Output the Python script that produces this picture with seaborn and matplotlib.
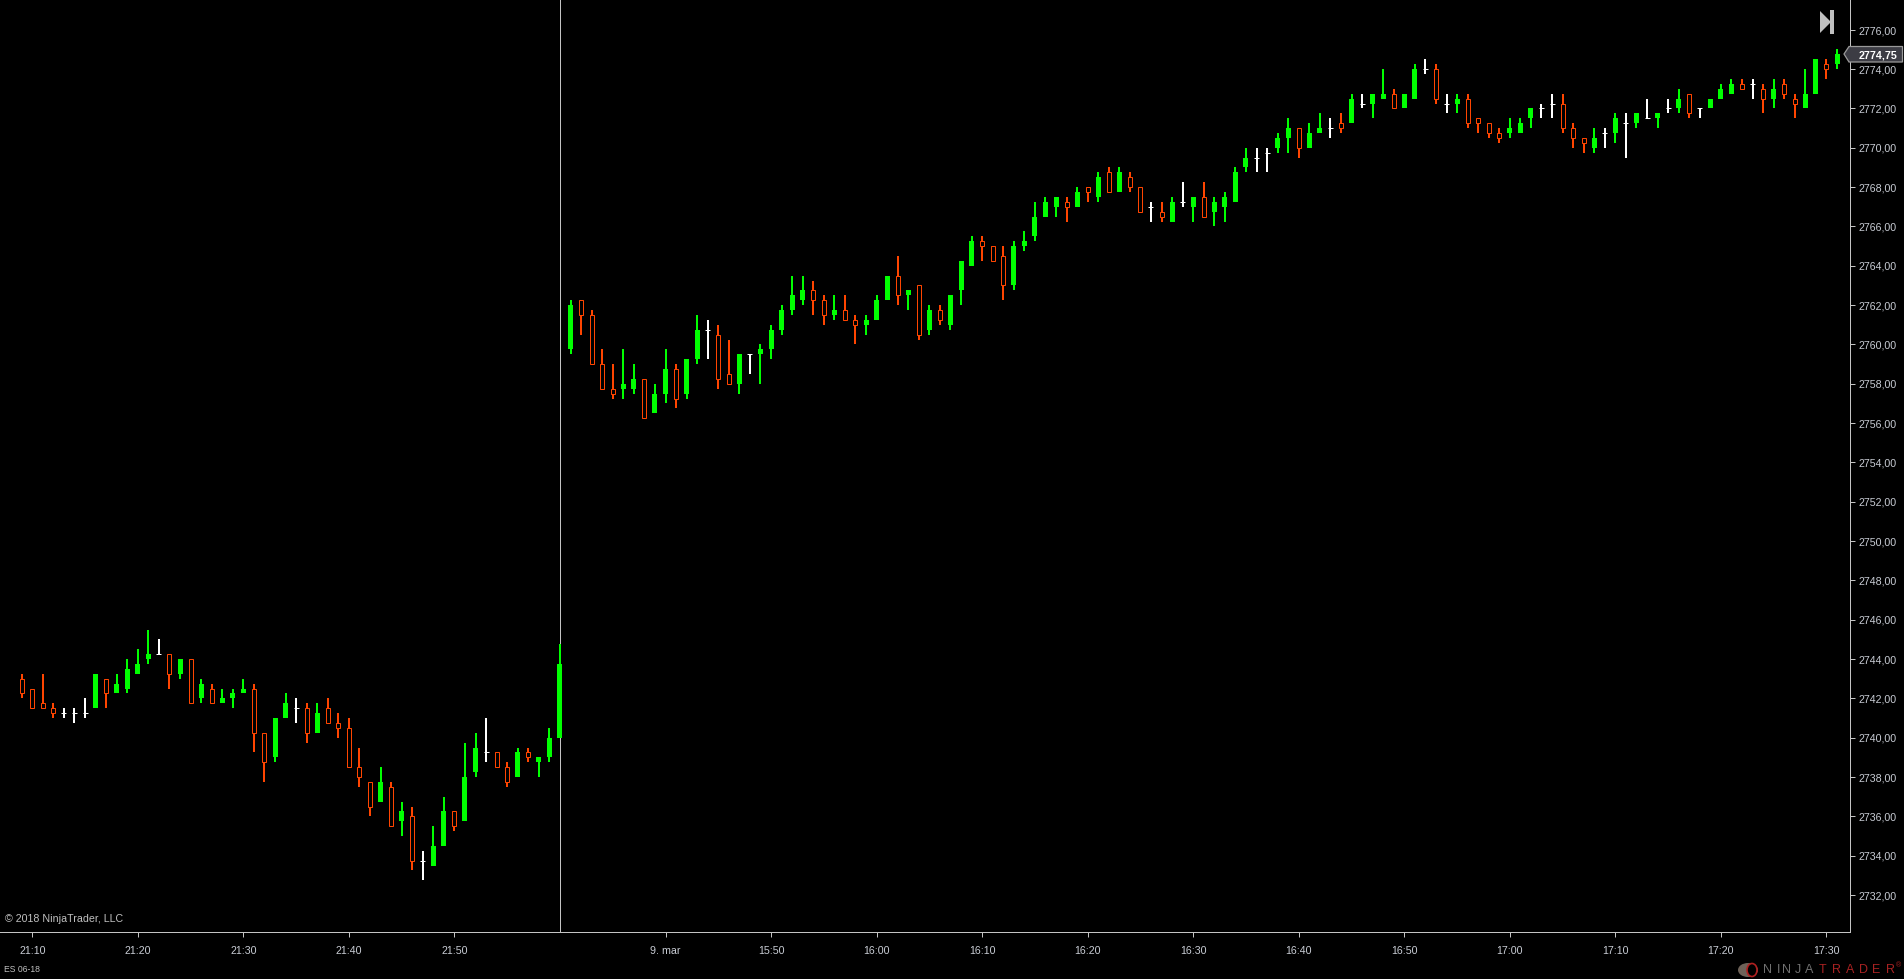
import numpy as np
import pandas as pd
import matplotlib
matplotlib.use("Agg")
import matplotlib.pyplot as plt
from matplotlib.patches import Polygon, Rectangle, Ellipse
from matplotlib.transforms import Affine2D
import seaborn as sns

opens = [
 2743,2742.5,2741.75,2741.5,2741.25,2741.25,2741.25,2741.5,2743,2742.25,
 2742.5,2743.25,2744,2744.25,2744.25,2743.25,2744,2742,2742.5,2741.75,
 2742,2742.25,2742.5,2740.25,2739,2741,2741.5,2741.5,2740.25,2741.5,
 2740.75,2740.5,2738.5,2737.75,2736.75,2737.5,2735.75,2736,2733.75,2733.5,
 2734.5,2736.25,2735.75,2738.25,2739.25,2739.25,2738.5,2738,2739.25,2738.75,
 2739,2740,
 2759.75,2762.25,2761.5,2759,2757.75,2757.75,2757.75,2758.25,
 2756.5,2757.5,2758.75,2757.5,2759.25,2760.75,2760.5,2758.5,2758,2759.5,
 2759.5,2759.75,2760.75,2761.75,2762.25,2762.75,2762.25,2761.5,2761.75,2761.25,
 2761,2761.25,2762.25,2763.5,2762.5,2763,2760.75,2761.75,2761,2762.75,
 2764,2765.25,2765,2764.5,2763,2765,2765.5,2766.5,2767,2767.25,
 2767,2768,2767.5,2768.75,2767.75,2768.5,2768,2767,2766.75,2766.25,
 2767.25,2767,2767.5,2766.75,2767,2767.25,2769,2769.5,2769.75,2770,
 2770.5,2771,2770,2770.75,2771,2771.25,2771.25,2772.25,2772.25,2772.5,
 2772.75,2772,2772.5,2774,2774,2772.25,2772.25,2772.5,2771.5,2771.25,
 2770.75,2770.75,2770.75,2771.5,2772,2772.25,2772.25,2771,2770.5,2770,
 2770.75,2770.75,2771.25,2771.25,2771.5,2771.5,2772,2772,2772.75,2772,
 2772,2772.5,2772.75,2773.25,2773.25,2773,2772.5,2773.25,2772.5,2772,
 2772.75,2774.25,2774.25,
]
closes = [
 2742.25,2741.5,2741.5,2741.25,2741.25,2741.25,2741.25,2743.25,2742.25,2742.75,
 2743.5,2743.75,2744.25,2744.25,2743.25,2744,2741.75,2742.75,2741.75,2742,
 2742.25,2742.5,2740.25,2738.75,2741,2741.75,2741.5,2740.25,2741.25,2740.75,
 2740.5,2738.5,2738,2736.5,2737.75,2735.5,2736.25,2733.75,2733.75,2734.5,
 2736.25,2735.5,2738,2739.5,2739.25,2738.5,2737.75,2739.25,2739,2739,
 2740,2743.75,
 2762,2761.5,2759,2757.75,2757.5,2758,2758.25,2756.25,
 2757.5,2758.75,2757.25,2759.25,2760.75,2760.75,2758.25,2758,2759.5,2759.5,
 2759.75,2760.75,2761.75,2762.5,2762.75,2762.25,2761.5,2761.75,2761.25,2761,
 2761.25,2762.25,2763.5,2762.5,2762.75,2760.5,2761.75,2761.25,2762.5,2764.25,
 2765.25,2765,2764.25,2763,2765,2765.25,2766.5,2767.25,2767.5,2767,
 2767.75,2767.75,2768.5,2767.75,2768.75,2768,2766.75,2767,2766.5,2767.25,
 2767.25,2767.5,2766.5,2767.25,2767.5,2768.75,2769.5,2769.5,2769.75,2770.5,
 2771,2770,2770.75,2771,2771,2771,2772.5,2772.25,2772.75,2772.75,
 2772,2772.75,2774,2774,2772.5,2772.25,2772.5,2771.25,2771.25,2770.75,
 2770.5,2771,2771.25,2772,2772,2772.25,2771,2770.5,2770.25,2770.5,
 2770.75,2771.5,2771.25,2771.75,2771.5,2771.75,2772,2772.5,2771.75,2772,
 2772.5,2773,2773.25,2773,2773.25,2772.5,2773,2772.75,2772.25,2772.75,
 2774.5,2774,2774.75,
]
highs = [
 2743.25,2742.5,2743.25,2741.75,2741.5,2741.5,2742,2743.25,2743,2743.25,
 2744,2744.5,2745.5,2745,2744.25,2744,2744,2743,2742.75,2742.5,
 2742.5,2743,2742.75,2740.25,2741,2742.25,2742,2741.75,2741.75,2742,
 2741.25,2741,2739.5,2737.75,2738.5,2737.75,2736.75,2736.5,2734.25,2735.5,
 2737,2736.25,2739.75,2740.25,2741,2739.25,2738.75,2739.5,2739.5,2739,
 2740.5,2744.75,
 2762.25,2762.25,2761.75,2759.75,2759,2759.75,2759,2758.25,
 2758,2759.75,2759,2759.25,2761.5,2761.25,2761,2760.25,2759.5,2759.5,
 2760,2761,2762,2763.5,2763.5,2763.25,2762.5,2762.5,2762.5,2761.5,
 2761.5,2762.5,2763.5,2764.5,2762.75,2763,2762,2762,2762.5,2764.25,
 2765.5,2765.5,2765,2765,2765.25,2765.75,2767.25,2767.5,2767.5,2767.5,
 2768,2768,2768.75,2769,2769,2768.75,2768,2767.25,2767.25,2767.5,
 2768.25,2767.5,2768.25,2767.5,2767.75,2769,2770,2770,2770,2770.75,
 2771.5,2771,2771.25,2771.75,2771.5,2771.75,2772.75,2772.75,2772.75,2774,
 2773,2772.75,2774.25,2774.5,2774.25,2772.75,2772.75,2772.75,2771.5,2771.25,
 2771,2771.5,2771.5,2772,2772.25,2772.75,2772.75,2771.25,2770.5,2771,
 2771,2771.75,2771.75,2771.75,2772.5,2771.75,2772.5,2773,2772.75,2772,
 2772.5,2773.25,2773.5,2773.5,2773.5,2773.25,2773.5,2773.5,2772.75,2774,
 2774.5,2774.5,2775,
]
lows = [
 2742,2741.5,2741.5,2741,2741,2740.75,2741,2741.5,2741.5,2742.25,
 2742.25,2743.25,2743.75,2744.25,2742.5,2743,2741.75,2741.75,2741.75,2741.75,
 2741.5,2742.25,2739.25,2737.75,2738.75,2741,2740.75,2739.75,2740.25,2740.75,
 2740,2738.5,2737.5,2736,2736.75,2735.5,2735,2733.25,2732.75,2733.5,
 2734.5,2735.25,2735.75,2738,2738.75,2738.5,2737.5,2738,2738.75,2738,
 2738.75,2740,
 2759.5,2760.5,2759,2757.75,2757.25,2757.25,2757.5,2756.25,
 2756.5,2757,2756.75,2757.25,2759,2759.25,2757.75,2758,2757.5,2758.5,
 2758,2759.25,2760.5,2761.5,2762,2761.5,2761,2761.25,2761.25,2760,
 2760.5,2761.25,2762.25,2762,2761.75,2760.25,2760.5,2761,2760.75,2762,
 2764,2764.25,2764.25,2762.25,2762.75,2764.75,2765.25,2766.5,2766.5,2766.25,
 2767,2767.25,2767.25,2767.75,2767.75,2767.75,2766.75,2766.25,2766.25,2766.25,
 2767,2766.25,2766.5,2766,2766.25,2767.25,2768.75,2768.75,2768.75,2769.75,
 2769.75,2769.5,2770,2770.75,2770.5,2770.75,2771.25,2772,2771.5,2772.5,
 2772,2772,2772.5,2773.75,2772.25,2771.75,2771.75,2771,2770.75,2770.5,
 2770.25,2770.5,2770.75,2771,2771.5,2771.5,2770.75,2770,2769.75,2769.75,
 2770,2770.25,2769.5,2771,2771.5,2771,2771.75,2771.75,2771.5,2771.5,
 2772,2772.5,2772.75,2773,2772.5,2771.75,2772,2772.5,2771.5,2772,
 2772.75,2773.5,2774,
]
price_ticks = list(range(2732, 2777, 2))
time_tick_bars = [1, 11, 21, 31, 41, 61, 71, 81, 91, 101, 111, 121, 131, 141, 151, 161, 171]
time_tick_labels = ["21:10", "21:20", "21:30", "21:40", "21:50", "9. mar", "15:50", "16:00", "16:10",
                    "16:20", "16:30", "16:40", "16:50", "17:00", "17:10", "17:20", "17:30"]
session_break_bar = 51
last_price = "2774,75"

GREEN, ORANGE, WHITE, GREY = "#00FF00", "#FF4500", "#FFFFFF", "#C4C4C4"
W, H = 1904, 979
PLOT_R, PLOT_B = 1850, 932
BAR_PX = 10.553
Y_PX = 19.66

sns.set_theme(style="white", rc={"axes.facecolor": "black", "figure.facecolor": "black"})
plt.rcParams["font.family"] = ["Liberation Sans", "DejaVu Sans"]

bars = pd.DataFrame({"open": opens, "close": closes, "high": highs, "low": lows})
bars["bar"] = np.arange(len(bars))
bars["kind"] = np.where(bars.close > bars.open, "up", np.where(bars.close < bars.open, "down", "flat"))
palette = {"up": GREEN, "down": ORANGE, "flat": WHITE}
wicks = bars.melt(id_vars=["bar", "kind"], value_vars=["low", "high"], value_name="price")

fig = plt.figure(figsize=((W + 0.2) / 100, (H + 0.2) / 100), dpi=100, facecolor="black")
ax = fig.add_axes([0, 1 - PLOT_B / H, PLOT_R / W, PLOT_B / H], facecolor="black")

ax.axvline(session_break_bar, color=GREY, lw=0.72, zorder=1, antialiased=False)
sns.lineplot(data=wicks, x="bar", y="price", hue="kind", palette=palette, units="bar",
             estimator=None, sort=False, legend=False, linewidth=1.44, ax=ax, zorder=2,
             solid_capstyle="butt", antialiased=False)

body_w = 5 / BAR_PX
up = bars[bars.kind == "up"]
ax.bar(up.bar, up.close - up.open, bottom=up.open, width=body_w, color=GREEN, linewidth=0, zorder=3)
dn = bars[bars.kind == "down"]
ax.bar(dn.bar, dn.close - dn.open, bottom=dn.open, width=4 / BAR_PX, facecolor="black",
       edgecolor=ORANGE, linewidth=0.72, zorder=3)
fl = bars[bars.kind == "flat"]
ax.hlines(fl.close, fl.bar - body_w / 2, fl.bar + body_w / 2, color=WHITE, lw=0.72, zorder=3)

ax.set_xlim(-21.7 / BAR_PX, (PLOT_R - 21.7) / BAR_PX)
ax.set_ylim(2776 - (PLOT_B - 30) / Y_PX, 2776 + 30 / Y_PX)
ax.set_xlabel("")
ax.set_ylabel("")
ax.set_xticks(time_tick_bars, time_tick_labels)
ax.set_yticks(price_ticks, [f"{p:.2f}".replace(".", ",") for p in price_ticks])
ax.yaxis.tick_right()
ax.tick_params(axis="both", bottom=True, right=True, length=3.6, width=0.72, color=GREY,
               labelcolor="#C8CCD4", labelsize=7.7, pad=2.2)
ax.tick_params(axis="x", pad=6.4)
for side in ("top", "left"):
    ax.spines[side].set_visible(False)
for side in ("right", "bottom"):
    ax.spines[side].set_visible(True)
    ax.spines[side].set_color(GREY)
    ax.spines[side].set_linewidth(0.72)
ax.grid(False)

PX = Affine2D().scale(1, -1).translate(0, H)

fig.text(5, 919, "© 2018 NinjaTrader, LLC", transform=PX, color="#C0C0C0", fontsize=7.65, va="center")
fig.text(4, 969, "ES 06-18", transform=PX, color="#C0C0C0", fontsize=6.2, va="center")

# current price flag
fig.add_artist(Polygon([(1844, 54), (1849, 46.5), (1902.5, 46.5), (1902.5, 62), (1849, 62)], closed=True,
                       transform=PX, facecolor="#3C3C44", edgecolor="#9A9A9A", lw=0.9))
fig.text(1859, 55, last_price, transform=PX, color="white", fontsize=7.7, va="center", fontweight="bold")

# jump-to-end button
fig.add_artist(Polygon([(1820, 11), (1831, 22), (1820, 33)], closed=True, transform=PX, facecolor="#C0C0C0", lw=0))
fig.add_artist(Rectangle((1830, 10), 4, 24, transform=PX, facecolor="#C0C0C0", lw=0))

# logo
fig.add_artist(Ellipse((1748, 970), 20, 14, transform=PX, facecolor="#6E6258", lw=0))
fig.add_artist(Ellipse((1752, 970), 10, 13, transform=PX, facecolor="black", edgecolor="#B02020", lw=1.2))
logo_x = 1763
for ch, col in zip("NINJATRADER", ["#707070"] * 5 + ["#A82222"] * 6):
    fig.text(logo_x, 970, ch, transform=PX, color=col, fontsize=9, va="center", ha="left")
    logo_x += {"I": 5.5, "J": 10}.get(ch, 13.4)
fig.text(1896, 966, "®", transform=PX, color="#A82222", fontsize=5, va="center")

fig.savefig("out.png", dpi=100, facecolor="black")
